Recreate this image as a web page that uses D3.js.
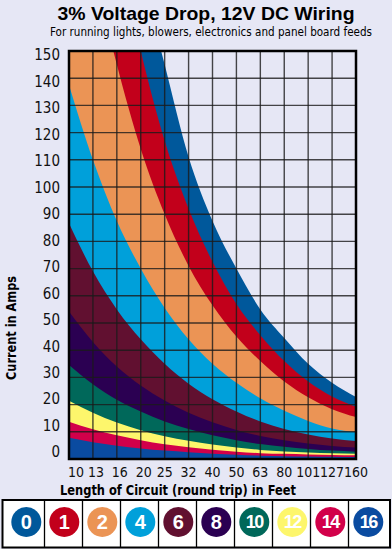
<!DOCTYPE html>
<html><head><meta charset="utf-8">
<script src="https://cdn.jsdelivr.net/npm/d3@7/dist/d3.min.js"></script>
<style>
html,body{margin:0;padding:0;background:#e6e7f5;}
svg{display:block;}
</style></head>
<body><svg id="c" width="392" height="549"></svg>
<script>
// ---- data ----
const xLabels = ["10","13","16","20","25","32","40","50","63","80","101","127","160"];
const yTicks = [0,10,20,30,40,50,60,70,80,90,100,110,120,130,140,150];
const gauges = ["0","1","2","4","6","8","10","12","14","16"];
const gaugeColors = ["#00589b","#c2001b","#eb9455","#00a0da","#611030","#2b0052","#00685a","#fdf66c","#d2004a","#0a4ba0"];
const legendColors = ["#00589b","#c2001b","#eb9455","#00a0da","#611030","#2b0052","#00685a","#fdf66c","#d2004a","#0a4ba0"];
// max current (A) for each gauge at each length tick
const awg0  = [360,285,226,180,145,111,87.5,70,55,44.5,35,28,22.8];
const awg1  = [300,240,190,150,117,92,72.5,57,45.5,36,28.5,23,19.2];
const awg2  = [230,182,145,114,90,71,56.5,45,36,28.5,22.7,18.3,15.4];
const awg4  = [137.5,110,87.5,70,55.5,44,35,28,22.3,17.7,14,11.2,9.8];
const awg6  = [86.7,69,55,44,35,27.7,22,17.5,13.8,11,9,7.5,6.6];
const awg8  = [54.2,43,34,27,21.5,17,13.5,10.7,8.5,6.9,5.7,4.8,4.2];
const awg10 = [34.6,27.5,21.8,17.5,13.8,11,8.7,6.9,5.5,4.5,3.7,3.1,2.7];
const awg12 = [21.4,17,13.4,10.6,8.4,6.7,5.3,4.2,3.35,2.8,2.4,2.1,1.9];
const awg14 = [13.7,10.9,8.7,6.9,5.4,4.3,3.4,2.7,2.15,1.9,1.7,1.5,1.35];
const awg16 = [7.8,6.2,4.9,3.9,3.1,2.5,1.95,1.55,1.2,1.05,0.9,0.8,0.7];
const series = [awg0,awg1,awg2,awg4,awg6,awg8,awg10,awg12,awg14,awg16];

const title = "3% Voltage Drop, 12V DC Wiring";
const subtitle = "For running lights, blowers, electronics and panel board feeds";
const yTitle = "Current in Amps";
const xTitle = "Length of Circuit (round trip) in Feet";

// ---- layout ----
const svg = d3.select("#c");
const L = 69, R = 356, T = 51, B = 459;
const narrow = "'Liberation Sans Narrow','DejaVu Sans Condensed',sans-serif";

const x = d3.scalePoint().domain(xLabels).range([L, R]);
const y = d3.scaleLinear().domain([0,150]).range([B, T]);
const yLab = d3.scaleLinear().domain([0,150]).range([452, 55]);

svg.append("rect").attr("width",392).attr("height",549).attr("fill","#e6e7f5");

// title
svg.append("text").attr("x",206).attr("y",20).attr("text-anchor","middle")
  .attr("font-family","'Liberation Sans',Arial,sans-serif").attr("font-weight","bold")
  .attr("font-size",19).attr("fill","#000")
  .attr("textLength",297).attr("lengthAdjust","spacingAndGlyphs").text(title);
svg.append("text").attr("x",211).attr("y",36).attr("text-anchor","middle")
  .attr("font-family",narrow).attr("font-size",12).attr("fill","#000")
  .attr("textLength",322).attr("lengthAdjust","spacingAndGlyphs").text(subtitle);

// clip
svg.append("clipPath").attr("id","pc").append("rect")
  .attr("x",L).attr("y",T).attr("width",R-L).attr("height",B-T);

const plot = svg.append("g").attr("clip-path","url(#pc)");
const area = d3.area()
  .x((d,i)=>x(xLabels[i]))
  .y0(y(0))
  .y1(d=>y(d))
  .curve(d3.curveMonotoneX);

series.forEach((s,i)=>{
  plot.append("path").attr("d",area(s)).attr("fill",gaugeColors[i]);
});

// grid
const grid = svg.append("g");
grid.selectAll("line.h").data(yTicks.filter(v=>v>0&&v<150)).join("line")
  .attr("x1",L).attr("x2",R).attr("y1",d=>y(d)).attr("y2",d=>y(d))
  .attr("stroke","#1a1a1a").attr("stroke-opacity",0.8).attr("stroke-width",1.4);
grid.selectAll("line.v").data(xLabels.slice(1,-1)).join("line")
  .attr("y1",T).attr("y2",B).attr("x1",d=>x(d)).attr("x2",d=>x(d))
  .attr("stroke","#1a1a1a").attr("stroke-opacity",0.8).attr("stroke-width",1.4);

// frame
svg.append("rect").attr("x",L).attr("y",T).attr("width",R-L).attr("height",B-T)
  .attr("fill","none").attr("stroke","#000").attr("stroke-width",2.5);

// y tick labels
svg.append("g").selectAll("text").data(yTicks).join("text")
  .attr("x",60).attr("y",d=>yLab(d)).attr("dy","0.36em").attr("text-anchor","end")
  .attr("font-family",narrow).attr("font-size",15).attr("fill","#111").text(d=>d);

// x tick labels
svg.append("g").selectAll("text").data(xLabels).join("text")
  .attr("x",(d,i)=>x(d) + (i===0?7:(i<4?3:0))).attr("y",477).attr("text-anchor","middle")
  .attr("font-family",narrow).attr("font-size",14).attr("fill","#111").text(d=>d);

// axis titles
svg.append("text").attr("transform","translate(16,328) rotate(-90)").attr("text-anchor","middle")
  .attr("font-family",narrow).attr("font-weight","bold").attr("font-size",14).attr("fill","#000")
  .attr("textLength",104).attr("lengthAdjust","spacingAndGlyphs").text(yTitle);
svg.append("text").attr("x",178).attr("y",495).attr("text-anchor","middle")
  .attr("font-family",narrow).attr("font-weight","bold").attr("font-size",14.5).attr("fill","#000")
  .attr("textLength",236).attr("lengthAdjust","spacingAndGlyphs").text(xTitle);

// legend
const lx = d3.scaleBand().domain(gauges).range([6.5,386.5]).paddingInner(0);
const lg = svg.append("g");
lg.append("rect").attr("x",2.5).attr("y",500).attr("width",387.5).attr("height",47.5)
  .attr("fill","#fff").attr("stroke","#000").attr("stroke-width",2);
lg.selectAll("line").data(gauges.slice(1)).join("line")
  .attr("x1",d=>lx(d)).attr("x2",d=>lx(d)).attr("y1",500).attr("y2",547.5)
  .attr("stroke","#000").attr("stroke-width",1.3);
const cells = lg.selectAll("g.cell").data(gauges).join("g")
  .attr("transform",d=>`translate(${lx(d)+lx.bandwidth()/2+0.8},522)`);
cells.append("circle").attr("r",15).attr("fill",(d,i)=>legendColors[i]);
cells.append("text").attr("dy","0.36em").attr("text-anchor","middle")
  .attr("font-family","'Liberation Sans',Arial,sans-serif").attr("font-weight","bold")
  .attr("font-size",d=>d.length>1?18:20).attr("fill","#fff")
  .attr("letter-spacing",d=>d.length>1?-1.5:0)
  .text(d=>d);
</script></body></html>
